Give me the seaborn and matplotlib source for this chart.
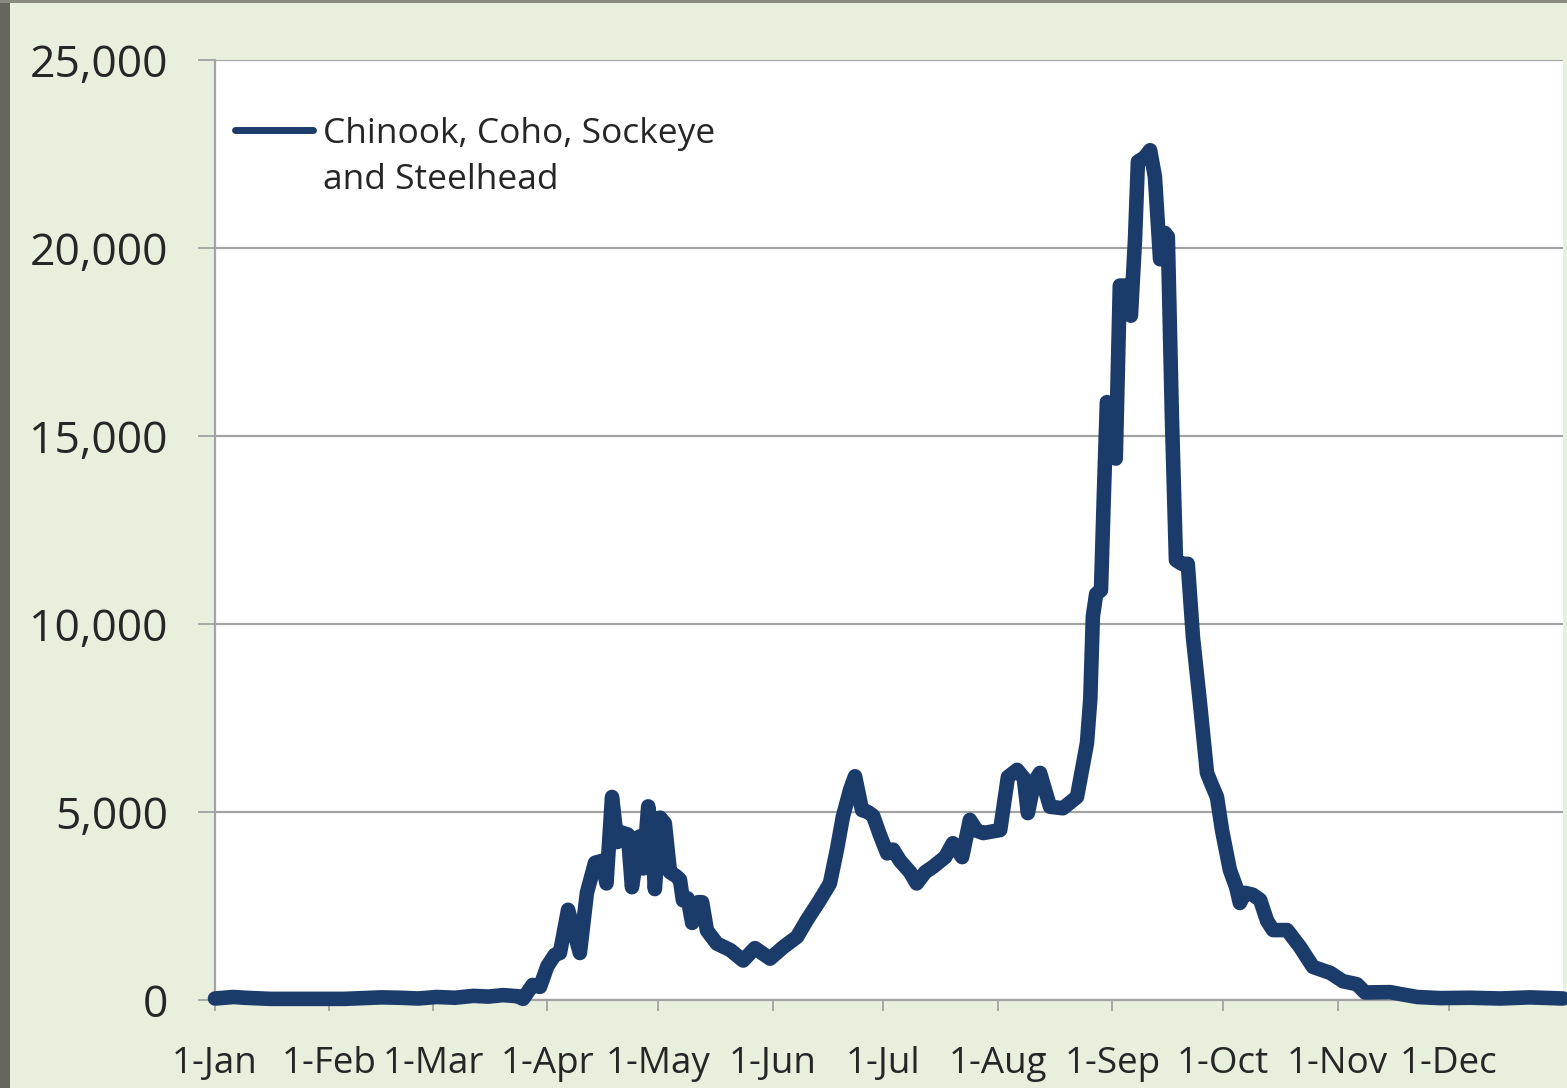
import matplotlib
matplotlib.use("Agg")
import matplotlib.pyplot as plt
import matplotlib.ticker as mticker
from matplotlib.patches import Rectangle
from matplotlib.offsetbox import HPacker
import seaborn as sns
import pandas as pd

# ---- data (day of year, fish count) ----
days = [0, 5, 8, 15, 25, 35, 45, 50, 55, 60, 65, 70, 74, 78, 82, 83.4, 86, 88,
        90, 92, 93.4, 95.6, 97, 98.8, 100.7, 102.9, 104.8, 106, 107.5, 108.9,
        110.2, 111.8, 112.9, 115, 116, 117.3, 118.4, 119.1, 120.5, 121.8, 123.2,
        124.8, 125.9, 126.7, 128, 129.2, 130.8, 131.9, 133.2, 135.9, 139.5, 143,
        146.2, 150.3, 153.8, 157.6, 160.3, 163.8, 166.5, 168.4, 170, 172, 173.3,
        175.2, 176.8, 178.2, 180, 182, 183.6, 185.5, 188.2, 190, 192.3, 194.4,
        197.7, 199.8, 202.3, 204.4, 206.3, 208, 212.6, 214.7, 217.2, 219, 220.1,
        221.8, 223.4, 226.1, 229.6, 233.4, 236.1, 237, 237.7, 238.6, 239.9,
        240.7, 241.5, 242.9, 243.9, 245, 246.7, 248, 249.1, 249.9, 251.6, 253.2,
        254.5, 255.9, 257.2, 258, 259.1, 260.2, 261.8, 263.4, 264.8, 266.7,
        268.6, 270, 271.3, 272.7, 274.8, 276.5, 277.5, 278.9, 281, 283, 284.9,
        286.5, 290.3, 293.8, 297.3, 302, 305.4, 309.2, 311.4, 318.2, 320.9,
        325.5, 331.7, 339.8, 348, 356, 365]
counts = [40, 80, 60, 30, 30, 30, 70, 60, 40, 80, 60, 110, 90, 130, 100, 30,
          400, 350, 900, 1200, 1250, 2400, 1900, 1250, 2850, 3650, 3700, 3100,
          5400, 4200, 4450, 4400, 3000, 4350, 3500, 5150, 4300, 2950, 4850, 4700,
          3400, 3300, 3200, 2650, 2700, 2050, 2600, 2600, 1850, 1500, 1330, 1050,
          1380, 1100, 1400, 1680, 2130, 2660, 3100, 4000, 4870, 5600, 5950, 5050,
          5000, 4900, 4400, 3900, 4000, 3700, 3400, 3100, 3400, 3540, 3800, 4170,
          3800, 4790, 4500, 4440, 4520, 5930, 6120, 5900, 4970, 5800, 6040, 5140,
          5100, 5400, 6830, 8000, 10200, 10800, 10900, 13500, 15900, 15700,
          14400, 19000, 19000, 18200, 20200, 22300, 22400, 22600, 21900, 19700,
          20400, 20300, 15500, 11700, 11600, 11600, 9650, 7900, 6040, 5700, 5400,
          4500, 3460, 3000, 2580, 2850, 2800, 2660, 2100, 1860, 1860, 1410, 880,
          720, 500, 420, 200, 210, 160, 80, 50, 60, 40, 70, 40]
series_label = "Chinook, Coho, Sockeye\nand Steelhead"
month_starts = [0, 31, 59, 90, 120, 151, 181, 212, 243, 273, 304, 334]
month_labels = ["1-Jan", "1-Feb", "1-Mar", "1-Apr", "1-May", "1-Jun",
                "1-Jul", "1-Aug", "1-Sep", "1-Oct", "1-Nov", "1-Dec"]
y_ticks = [0, 5000, 10000, 15000, 20000, 25000]

df = pd.DataFrame({"day": days, "count": counts, "series": series_label})

sns.set_theme(style="white")
plt.rcParams["font.family"] = ["Open Sans", "DejaVu Sans"]

BG = "#e9efdd"
LINE = "#1b3c6b"
GRID = "#a3a3a3"
TXT = "#262626"

fig = plt.figure(figsize=(15.67, 10.88), dpi=100, facecolor=BG)
ax = fig.add_axes([215 / 1567, 1 - 1000 / 1088, (1563 - 215) / 1567, (1000 - 60) / 1088])
ax.set_facecolor("white")

# frame strips of the screenshot
fig.patches.append(Rectangle((0, 0), 10 / 1567, 1, transform=fig.transFigure,
                             facecolor="#66665c", edgecolor="none", zorder=0))
fig.patches.append(Rectangle((0, 1 - 3 / 1088), 1, 3 / 1088, transform=fig.transFigure,
                             facecolor="#8a8a80", edgecolor="none", zorder=0))

sns.lineplot(data=df, x="day", y="count", hue="series", palette=[LINE],
             linewidth=10.5, ax=ax, solid_joinstyle="round", solid_capstyle="round",
             clip_on=False, zorder=3)

ax.set_xlim(0, 365)
ax.set_ylim(0, 25000)
ax.set_xticks(month_starts)
ax.set_xticklabels(month_labels)
ax.set_yticks(y_ticks)
ax.yaxis.set_major_formatter(mticker.StrMethodFormatter("{x:,.0f}"))
ax.set_xlabel("")
ax.set_ylabel("")

ax.yaxis.grid(True, color=GRID, linewidth=1.6)
ax.xaxis.grid(False)
ax.set_axisbelow(True)

for s in ["top", "right"]:
    ax.spines[s].set_visible(False)
for s in ["left", "bottom"]:
    ax.spines[s].set_color(GRID)
    ax.spines[s].set_linewidth(1.6)

ax.tick_params(axis="y", direction="out", length=12, width=1.3, color=GRID,
               labelsize=32, labelcolor=TXT, pad=22, left=True)
ax.tick_params(axis="x", direction="out", length=8, width=1.3, color=GRID,
               labelsize=26.5, labelcolor=TXT, pad=25, bottom=True)

leg = ax.legend(loc="upper left", bbox_to_anchor=(-0.006, 0.969), frameon=False,
                fontsize=25.5, handlelength=2.2, handletextpad=0.28,
                labelcolor=TXT, borderaxespad=0.4)
for t in leg.get_texts():
    t.set_linespacing(1.45)
for line in leg.get_lines():
    line.set_linewidth(5)
    line.set_solid_capstyle("round")
for box in leg.findobj(HPacker):
    box.align = "top"

fig.savefig("out.png", dpi=100, facecolor=BG)
